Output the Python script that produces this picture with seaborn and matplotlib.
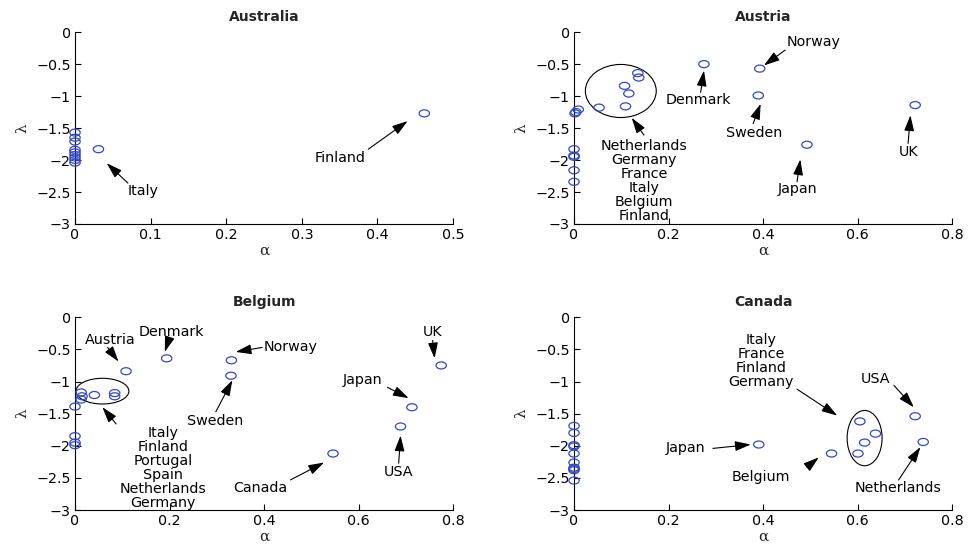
import numpy as np
import matplotlib
matplotlib.use('Agg')
import matplotlib.pyplot as plt
from matplotlib.path import Path
from matplotlib.patches import Ellipse
from matplotlib.ticker import FuncFormatter
import seaborn as sns

# Australia panel
aus_alpha = [0, 0, 0, 0, 0, 0, 0, 0, 0, 0.031, 0.462]
aus_lambda = [-1.57, -1.65, -1.71, -1.84, -1.88, -1.92, -1.96, -2.00, -2.04, -1.83, -1.27]

# Austria panel
aut_alpha = [0, 0, 0, 0, 0, 0.002, 0.004, 0.009, 0.053, 0.107, 0.116, 0.109,
             0.135, 0.137, 0.275, 0.393, 0.390, 0.493, 0.722]
aut_lambda = [-1.83, -1.93, -1.95, -2.16, -2.34, -1.27, -1.25, -1.21, -1.18, -0.84, -0.96, -1.16,
              -0.64, -0.71, -0.50, -0.57, -0.99, -1.76, -1.14]

# Belgium panel
bel_alpha = [0, 0, 0, 0, 0.013, 0.015, 0.013, 0.041, 0.084, 0.084, 0.108,
             0.194, 0.331, 0.330, 0.546, 0.689, 0.713, 0.775]
bel_lambda = [-1.39, -1.85, -1.95, -1.99, -1.17, -1.23, -1.28, -1.21, -1.18, -1.23, -0.84,
              -0.64, -0.67, -0.91, -2.12, -1.70, -1.40, -0.75]

# Canada panel
can_alpha = [0, 0, 0, 0, 0, 0, 0, 0, 0, 0,
             0.391, 0.545, 0.605, 0.638, 0.615, 0.601, 0.722, 0.739]
can_lambda = [-1.69, -1.80, -1.99, -2.01, -2.12, -2.26, -2.34, -2.36, -2.38, -2.54,
              -1.98, -2.12, -1.62, -1.81, -1.95, -2.12, -1.54, -1.94]

# labels: (text, text position, arrow tail, arrow tip)
aus_notes = [
    ('Italy', (0.090, -2.48), (0.070, -2.36), (0.042, -2.05)),
    ('Finland', (0.350, -1.97), (0.388, -1.83), (0.440, -1.39)),
]
aut_notes = [
    ('Netherlands\nGermany\nFrance\nItaly\nBelgium\nFinland', (0.148, -2.32), (0.148, -1.61), (0.122, -1.34)),
    ('Denmark', (0.264, -1.06), (0.268, -0.94), (0.275, -0.60)),
    ('Norway', (0.507, -0.16), (0.447, -0.28), (0.402, -0.52)),
    ('Sweden', (0.381, -1.58), (0.379, -1.43), (0.395, -1.12)),
    ('Japan', (0.474, -2.46), (0.472, -2.34), (0.479, -1.99)),
    ('UK', (0.707, -1.87), (0.707, -1.74), (0.712, -1.30)),
]
bel_notes = [
    ('Austria', (0.075, -0.35), (0.069, -0.47), (0.092, -0.69)),
    ('Denmark', (0.203, -0.23), (0.199, -0.34), (0.190, -0.54)),
    ('Norway', (0.456, -0.47), (0.396, -0.47), (0.340, -0.54)),
    ('Sweden', (0.296, -1.62), (0.298, -1.47), (0.333, -0.98)),
    ('Italy\nFinland\nPortugal\nSpain\nNetherlands\nGermany', (0.187, -2.35), (0.087, -1.66), (0.058, -1.40)),
    ('Canada', (0.393, -2.65), (0.456, -2.53), (0.527, -2.26)),
    ('USA', (0.685, -2.40), (0.685, -2.27), (0.689, -1.84)),
    ('Japan', (0.608, -0.98), (0.661, -1.09), (0.706, -1.26)),
    ('UK', (0.757, -0.23), (0.757, -0.36), (0.761, -0.64)),
]
can_notes = [
    ('Italy\nFrance\nFinland\nGermany', (0.396, -0.68), (0.472, -1.12), (0.557, -1.53)),
    ('USA', (0.638, -0.96), (0.677, -1.06), (0.719, -1.40)),
    ('Japan', (0.236, -2.03), (0.294, -2.04), (0.374, -1.98)),
    ('Belgium', (0.395, -2.48), (0.493, -2.33), (0.518, -2.18)),
    ('Netherlands', (0.686, -2.66), (0.687, -2.53), (0.733, -2.02)),
]

# circled groups: centre, width, height
aut_groups = [((0.099, -0.92), 0.150, 0.83)]
bel_groups = [((0.058, -1.15), 0.112, 0.40)]
can_groups = [((0.615, -1.88), 0.074, 0.86)]

panels = [
    ('Australia', aus_alpha, aus_lambda, aus_notes, [], 0.5, [0, 0.1, 0.2, 0.3, 0.4, 0.5]),
    ('Austria', aut_alpha, aut_lambda, aut_notes, aut_groups, 0.8, [0, 0.2, 0.4, 0.6, 0.8]),
    ('Belgium', bel_alpha, bel_lambda, bel_notes, bel_groups, 0.8, [0, 0.2, 0.4, 0.6, 0.8]),
    ('Canada', can_alpha, can_lambda, can_notes, can_groups, 0.8, [0, 0.2, 0.4, 0.6, 0.8]),
]

sns.set_style('ticks')
plt.rcParams['font.family'] = ['DejaVu Sans']

# the original picture is stretched sideways, so the circles look like ellipses
t = np.linspace(0, 2 * np.pi, 61)
oval = Path(np.column_stack([np.cos(t), 0.68 * np.sin(t)]), closed=True)

fmt = FuncFormatter(lambda v, p: f'{v:g}'.replace('-', '\u2212'))

fig = plt.figure(figsize=(9.68, 5.45), dpi=100)
boxes = [
    [0.0775, 0.589, 0.3905, 0.352],
    [0.593, 0.589, 0.3905, 0.352],
    [0.0775, 0.064, 0.3905, 0.354],
    [0.593, 0.064, 0.3905, 0.354],
]

for box, (name, xs, ys, notes, groups, xmax, xt) in zip(boxes, panels):
    ax = fig.add_axes(box)
    for (c, w, h) in groups:
        ax.add_patch(Ellipse(c, w, h, fill=False, edgecolor='black', linewidth=0.8))
    sns.scatterplot(x=xs, y=ys, ax=ax, marker=oval, s=55, facecolor='none',
                    edgecolor='#3248c6', linewidth=0.9, zorder=3, clip_on=False)
    for text, pos, tail, tip in notes:
        ax.text(pos[0], pos[1], text, ha='center', va='center', fontsize=10.3,
                linespacing=1.0, color='black', clip_on=False)
        ax.annotate('', xy=tip, xytext=tail,
                    arrowprops=dict(arrowstyle='-|>,head_length=0.6,head_width=0.19',
                                    mutation_scale=16, color='black', linewidth=0.8,
                                    shrinkA=0, shrinkB=0))
    ax.set_xlim(0, xmax)
    ax.set_ylim(-3, 0)
    ax.set_xticks(xt)
    ax.set_yticks([0, -0.5, -1, -1.5, -2, -2.5, -3])
    ax.xaxis.set_major_formatter(fmt)
    ax.yaxis.set_major_formatter(fmt)
    ax.tick_params(direction='in', length=4, width=0.8, labelsize=10.3, pad=3,
                   colors='black')
    sns.despine(ax=ax)
    for s in ('left', 'bottom'):
        ax.spines[s].set_linewidth(0.8)
        ax.spines[s].set_color('black')
    ax.set_title(name, fontsize=10, fontweight='bold', pad=8)
    ax.set_xlabel('\u03b1', family=['DejaVu Serif'], fontsize=11, labelpad=1)
    ax.set_ylabel('\u03bb', family=['DejaVu Serif'], fontsize=11, labelpad=5)

fig.savefig('out.png', dpi=100)
